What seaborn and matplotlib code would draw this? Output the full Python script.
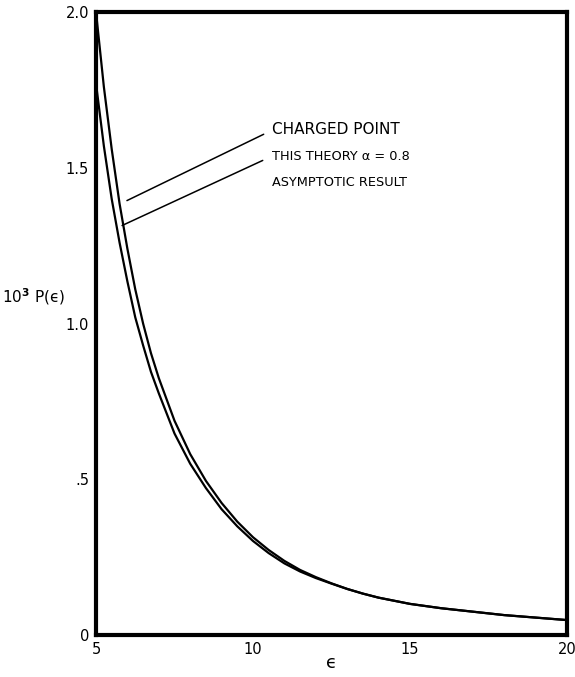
import matplotlib
matplotlib.use("Agg")
import matplotlib.pyplot as plt
import seaborn as sns
import pandas as pd

# Data
eps = [5.0, 5.25, 5.5, 5.75, 6.0, 6.25, 6.5, 6.75, 7.0, 7.5, 8.0, 8.5, 9.0, 9.5,
       10.0, 10.5, 11.0, 11.5, 12.0, 12.5, 13.0, 13.5, 14.0, 15.0, 16.0, 17.0,
       18.0, 19.0, 20.0]
theory = [2.00, 1.76, 1.56, 1.385, 1.24, 1.11, 1.00, 0.905, 0.825, 0.688, 0.581,
          0.495, 0.424, 0.364, 0.314, 0.273, 0.238, 0.209, 0.186, 0.166, 0.148,
          0.133, 0.120, 0.100, 0.086, 0.075, 0.064, 0.056, 0.048]
asymptotic = [1.77, 1.57, 1.40, 1.26, 1.135, 1.02, 0.93, 0.845, 0.776, 0.647, 0.550,
              0.472, 0.404, 0.349, 0.302, 0.263, 0.230, 0.204, 0.183, 0.165, 0.148,
              0.133, 0.120, 0.100, 0.086, 0.075, 0.064, 0.056, 0.048]
x_ticks = [5, 10, 15, 20]
x_ticklabels = ["5", "10", "15", "20"]
y_ticks = [0, 0.5, 1.0, 1.5, 2.0]
y_ticklabels = ["0", ".5", "1.0", "1.5", "2.0"]

sns.set_style("white")
plt.rcParams['font.family'] = ['DejaVu Sans']
plt.rcParams['text.color'] = 'black'
plt.rcParams['axes.labelcolor'] = 'black'
plt.rcParams['xtick.color'] = 'black'
plt.rcParams['ytick.color'] = 'black'

df = pd.DataFrame({
    "eps": eps * 2,
    "P": theory + asymptotic,
    "series": ["THIS THEORY α = 0.8"] * len(eps) + ["ASYMPTOTIC RESULT"] * len(eps),
})

fig = plt.figure(figsize=(5.75, 6.77), dpi=100)
ax = fig.add_axes([0.167, 0.062, 0.819, 0.920])

sns.lineplot(data=df, x="eps", y="P", units="series", estimator=None,
             color="black", linewidth=1.6, ax=ax, legend=False)

ax.set_xlim(5, 20)
ax.set_ylim(0, 2.0)
ax.set_xticks(x_ticks)
ax.set_xticklabels(x_ticklabels, fontsize=10.5)
ax.set_yticks(y_ticks)
ax.set_yticklabels(y_ticklabels, fontsize=10.5)
ax.tick_params(direction="in", length=7, width=1.5, pad=5, colors="black")
for s in ax.spines.values():
    s.set_linewidth(3.0)
    s.set_color("black")

ax.set_xlabel("ϵ", fontsize=13, labelpad=-2)
ax.set_ylabel("10$^{\\mathbf{3}}$ P(ϵ)", fontsize=11, rotation=0, va="center")
ax.yaxis.set_label_coords(-0.132, 0.543)

# Annotations
ax.text(10.62, 1.624, "CHARGED POINT", fontsize=11, va="center", ha="left")
ax.text(10.62, 1.537, "THIS THEORY α = 0.8", fontsize=9.3, va="center", ha="left")
ax.text(10.62, 1.453, "ASYMPTOTIC RESULT", fontsize=9.3, va="center", ha="left")
ax.plot([5.985, 10.34], [1.395, 1.608], color="black", linewidth=1.1)
ax.plot([5.83, 10.31], [1.315, 1.524], color="black", linewidth=1.1)

fig.savefig("out.png", dpi=100, facecolor="white")
